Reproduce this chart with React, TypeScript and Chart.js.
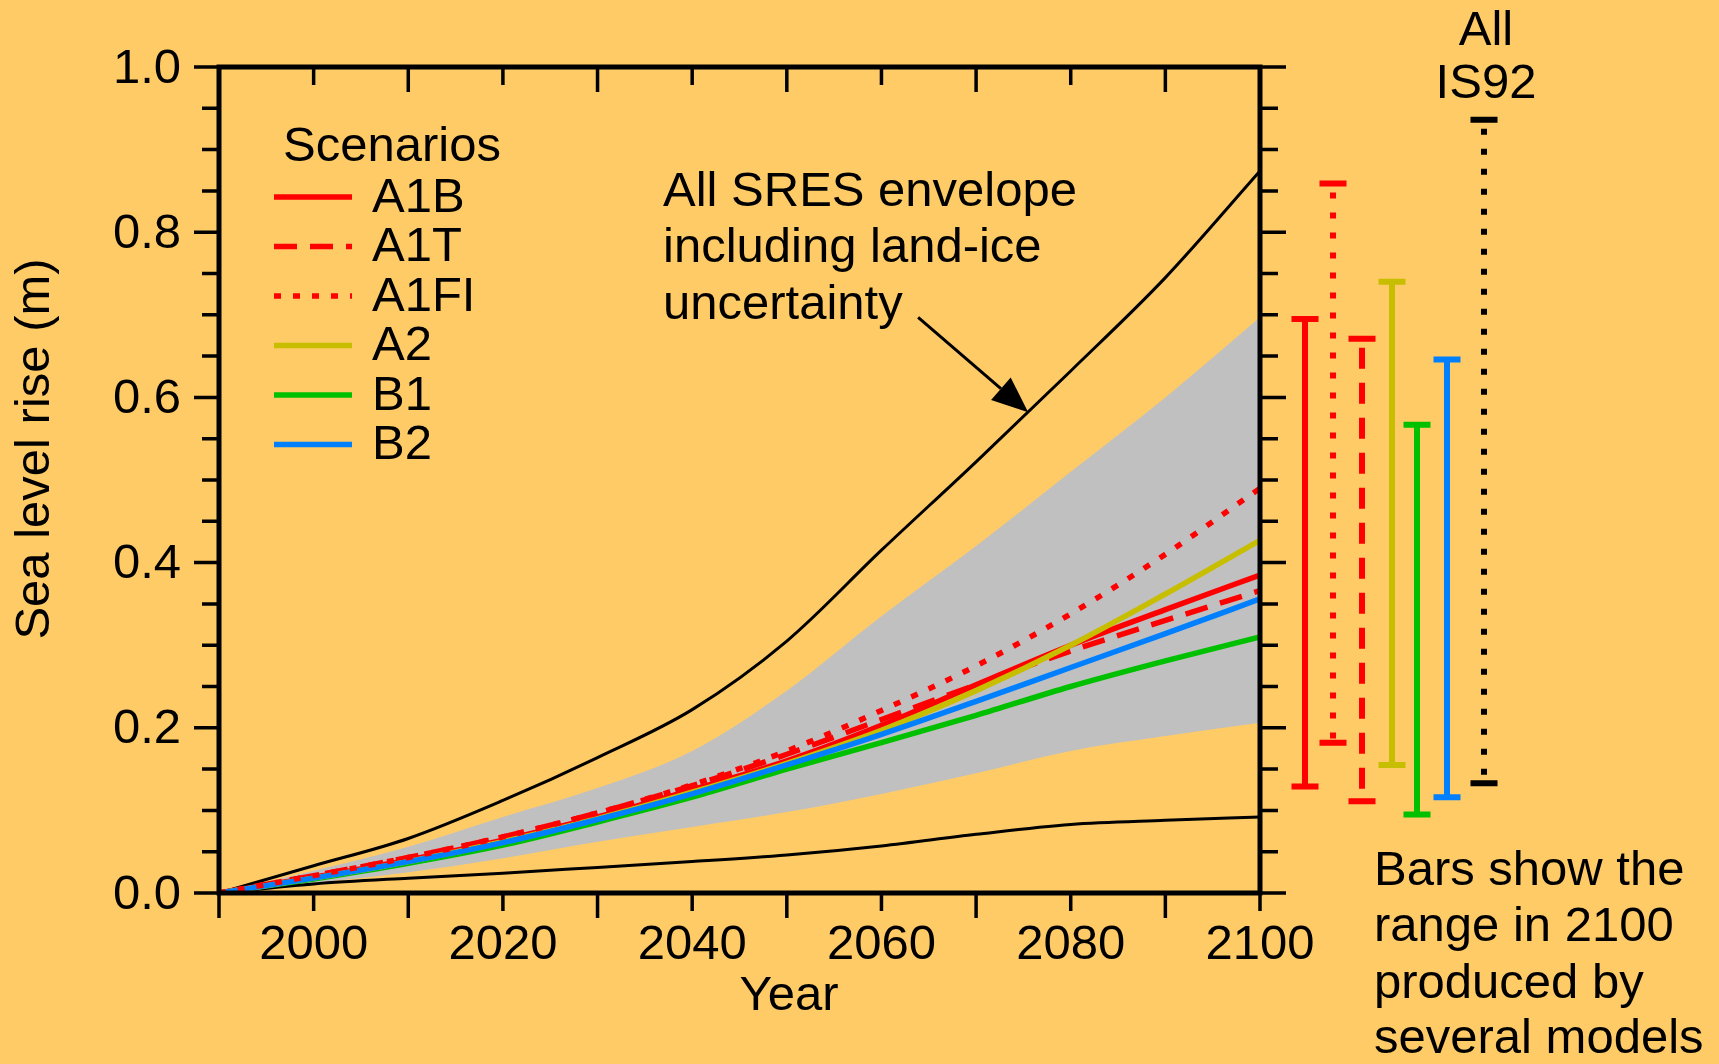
import React, { useEffect, useRef } from "react";
import { Chart, registerables } from "chart.js";

Chart.register(...registerables);

// ---- data ----
const years = [1990, 2000, 2010, 2020, 2030, 2040, 2050, 2060, 2070, 2080, 2090, 2100];

// All SRES envelope including land-ice uncertainty (black lines)
const envelopeUpper = [0, 0.033, 0.066, 0.112, 0.164, 0.222, 0.305, 0.415, 0.522, 0.632, 0.745, 0.874];
const envelopeLower = [0, 0.011, 0.018, 0.024, 0.031, 0.038, 0.046, 0.057, 0.071, 0.083, 0.088, 0.092];

// Model-average range for all SRES scenarios (grey band)
const bandUpper = [0, 0.027, 0.056, 0.092, 0.127, 0.172, 0.245, 0.335, 0.42, 0.51, 0.6, 0.697];
const bandLower = [0, 0.012, 0.025, 0.042, 0.062, 0.08, 0.098, 0.12, 0.145, 0.172, 0.19, 0.206];

// Scenario averages
const a1b = [0, 0.019, 0.04, 0.064, 0.092, 0.125, 0.16, 0.203, 0.252, 0.3, 0.343, 0.385];
const a1t = [0, 0.021, 0.043, 0.068, 0.097, 0.13, 0.168, 0.21, 0.252, 0.293, 0.33, 0.366];
const a1fi = [0, 0.021, 0.043, 0.068, 0.097, 0.131, 0.172, 0.221, 0.275, 0.338, 0.41, 0.49];
const a2 = [0, 0.018, 0.038, 0.062, 0.09, 0.122, 0.157, 0.197, 0.245, 0.3, 0.362, 0.427];
const b1 = [0, 0.017, 0.036, 0.058, 0.086, 0.116, 0.15, 0.182, 0.215, 0.25, 0.281, 0.31];
const b2 = [0, 0.018, 0.038, 0.061, 0.089, 0.12, 0.155, 0.192, 0.232, 0.273, 0.314, 0.356];

// Ranges in 2100 produced by several models
const rangeNames = ["A1B", "A1FI", "A1T", "A2", "B1", "B2", "IS92"];
const rangeLow = [0.129, 0.182, 0.111, 0.155, 0.095, 0.116, 0.133];
const rangeHigh = [0.695, 0.859, 0.671, 0.74, 0.567, 0.646, 0.936];

// Axis ticks
const yTickValues = [0, 0.2, 0.4, 0.6, 0.8, 1.0];
const xTickLabels = [2000, 2020, 2040, 2060, 2080, 2100];
const xTickStep = 10;
const yMinorStep = 0.05;

const legendNames = ["A1B", "A1T", "A1FI", "A2", "B1", "B2"];

// ---- styles / layout ----
const W = 1719;
const H = 1064;
const BG = "#FFCB66";
const FONT = '"Liberation Sans", Arial, Helvetica, sans-serif';
const FONT_SIZE = 49;
const RED = "#FF0000";
const OLIVE = "#C8BE00";
const GREEN = "#00C000";
const BLUE = "#0080FF";

const styles: Record<string, { color: string; dash: number[]; barDash: number[] }> = {
  A1B: { color: RED, dash: [], barDash: [] },
  A1T: { color: RED, dash: [23, 13], barDash: [21, 14] },
  A1FI: { color: RED, dash: [7, 12], barDash: [6, 14] },
  A2: { color: OLIVE, dash: [], barDash: [] },
  B1: { color: GREEN, dash: [], barDash: [] },
  B2: { color: BLUE, dash: [], barDash: [] },
  IS92: { color: "#000000", dash: [], barDash: [6, 14] },
};

const barX: Record<string, number> = {
  A1B: 1305,
  A1FI: 1333,
  A1T: 1362,
  A2: 1392,
  B1: 1417,
  B2: 1447,
  IS92: 1484,
};

const pts = (vals: number[]) => years.map((x, i) => ({ x, y: vals[i] }));

const scenarioSet = (label: string, vals: number[], order: number) => ({
  label,
  data: pts(vals),
  borderColor: styles[label].color,
  borderWidth: 5.5,
  borderDash: styles[label].dash,
  borderCapStyle: "butt" as const,
  fill: false,
  order,
});

const decorPlugin = {
  id: "decor",
  beforeDraw(chart: any) {
    const { ctx } = chart;
    ctx.save();
    ctx.fillStyle = BG;
    ctx.fillRect(0, 0, chart.width, chart.height);
    ctx.restore();
  },
  afterDatasetsDraw(chart: any) {
    const { ctx, chartArea: a } = chart;
    const xs = chart.scales.x;
    const ys = chart.scales.y;
    ctx.save();
    ctx.strokeStyle = "#000";
    ctx.fillStyle = "#000";
    ctx.lineCap = "butt";

    // frame
    ctx.lineWidth = 5;
    ctx.lineJoin = "miter";
    ctx.strokeRect(a.left, a.top, a.right - a.left, a.bottom - a.top);

    // y ticks (left outward, right outward)
    ctx.lineWidth = 3.5;
    const nMinor = Math.round((ys.max - ys.min) / yMinorStep);
    for (let k = 0; k <= nMinor; k++) {
      const v = ys.min + k * yMinorStep;
      const major = yTickValues.some((t) => Math.abs(t - v) < 1e-6);
      const py = ys.getPixelForValue(v);
      ctx.beginPath();
      ctx.moveTo(a.left - (major ? 25 : 17), py);
      ctx.lineTo(a.left, py);
      ctx.moveTo(a.right, py);
      ctx.lineTo(a.right + (major ? 26 : 18), py);
      ctx.stroke();
    }

    // x ticks (bottom outward, top inward)
    for (let yr = xs.min; yr <= xs.max + 1e-6; yr += xTickStep) {
      const labelled = xTickLabels.includes(yr);
      const len = labelled ? 18 : 25;
      const px = xs.getPixelForValue(yr);
      ctx.beginPath();
      ctx.moveTo(px, a.bottom);
      ctx.lineTo(px, a.bottom + len);
      ctx.moveTo(px, a.top);
      ctx.lineTo(px, a.top + len);
      ctx.stroke();
    }

    // tick labels
    ctx.font = `${FONT_SIZE}px ${FONT}`;
    ctx.textBaseline = "middle";
    ctx.textAlign = "right";
    yTickValues.forEach((v) => {
      ctx.fillText(v.toFixed(1), a.left - 38, ys.getPixelForValue(v) + 2);
    });
    ctx.textAlign = "center";
    xTickLabels.forEach((yr) => {
      ctx.fillText(String(yr), xs.getPixelForValue(yr), a.bottom + 52);
    });

    // axis titles
    ctx.fillText("Year", 789, 996);
    ctx.save();
    ctx.translate(35, 449);
    ctx.rotate(-Math.PI / 2);
    ctx.fillText("Sea level rise (m)", 0, 0);
    ctx.restore();

    // legend
    ctx.textAlign = "left";
    ctx.fillText("Scenarios", 283, 147);
    legendNames.forEach((name, i) => {
      const ry = 197 + i * 49.5;
      const st = styles[name];
      ctx.save();
      ctx.strokeStyle = st.color;
      ctx.lineWidth = 5.5;
      ctx.setLineDash(st.dash);
      ctx.beginPath();
      ctx.moveTo(274, ry);
      ctx.lineTo(352, ry);
      ctx.stroke();
      ctx.restore();
      ctx.fillText(name, 372, ry + 1);
    });

    // envelope annotation
    ctx.textBaseline = "alphabetic";
    ctx.fillText("All SRES envelope", 663, 206);
    ctx.fillText("including land-ice", 663, 262);
    ctx.fillText("uncertainty", 663, 319);

    // arrow pointing at the upper envelope line
    const tipX = xs.getPixelForValue(2075.5);
    const tipY = ys.getPixelForValue(0.582);
    const sx = tipX - 110;
    const sy = tipY - 95;
    const ang = Math.atan2(tipY - sy, tipX - sx);
    const headLen = 36;
    const headHalf = 15;
    const bx = tipX - headLen * Math.cos(ang);
    const by = tipY - headLen * Math.sin(ang);
    ctx.lineWidth = 3;
    ctx.beginPath();
    ctx.moveTo(sx, sy);
    ctx.lineTo(bx, by);
    ctx.stroke();
    ctx.beginPath();
    ctx.moveTo(tipX, tipY);
    ctx.lineTo(bx + headHalf * Math.sin(ang), by - headHalf * Math.cos(ang));
    ctx.lineTo(bx - headHalf * Math.sin(ang), by + headHalf * Math.cos(ang));
    ctx.closePath();
    ctx.fill();

    // range bars for 2100
    rangeNames.forEach((name, i) => {
      const st = styles[name];
      const cx = barX[name];
      const yTop = ys.getPixelForValue(rangeHigh[i]);
      const yBot = ys.getPixelForValue(rangeLow[i]);
      ctx.save();
      ctx.strokeStyle = st.color;
      ctx.lineWidth = 6;
      // caps
      ctx.beginPath();
      ctx.moveTo(cx - 13.5, yTop);
      ctx.lineTo(cx + 13.5, yTop);
      ctx.moveTo(cx - 13.5, yBot);
      ctx.lineTo(cx + 13.5, yBot);
      ctx.stroke();
      // vertical
      ctx.setLineDash(st.barDash);
      ctx.beginPath();
      const start = st.barDash.length ? yTop + 9 : yTop;
      ctx.moveTo(cx, start);
      ctx.lineTo(cx, yBot);
      ctx.stroke();
      ctx.restore();
    });

    ctx.textAlign = "center";
    ctx.textBaseline = "middle";
    ctx.fillText("All", 1486, 31);
    ctx.fillText("IS92", 1486, 84);

    ctx.textAlign = "left";
    ctx.fillText("Bars show the", 1374, 871);
    ctx.fillText("range in 2100", 1374, 927);
    ctx.fillText("produced by", 1374, 984);
    ctx.fillText("several models", 1374, 1039);

    ctx.restore();
  },
};

export default function App() {
  const ref = useRef<HTMLCanvasElement>(null);

  useEffect(() => {
    const canvas = ref.current;
    if (!canvas) return;
    const chart = new Chart(canvas, {
      type: "line",
      data: {
        datasets: [
          {
            label: "band upper",
            data: pts(bandUpper),
            borderWidth: 0,
            borderColor: "rgba(0,0,0,0)",
            backgroundColor: "#C0C0C0",
            fill: "+1",
            order: 100,
          },
          {
            label: "band lower",
            data: pts(bandLower),
            borderWidth: 0,
            borderColor: "rgba(0,0,0,0)",
            fill: false,
            order: 99,
          },
          {
            label: "envelope upper",
            data: pts(envelopeUpper),
            borderColor: "#000",
            borderWidth: 3,
            fill: false,
            order: 50,
          },
          {
            label: "envelope lower",
            data: pts(envelopeLower),
            borderColor: "#000",
            borderWidth: 3,
            fill: false,
            order: 49,
          },
          scenarioSet("B1", b1, 10),
          scenarioSet("A1B", a1b, 9),
          scenarioSet("A1T", a1t, 8),
          scenarioSet("A2", a2, 7),
          scenarioSet("B2", b2, 6),
          scenarioSet("A1FI", a1fi, 5),
        ],
      },
      options: {
        animation: false,
        responsive: false,
        maintainAspectRatio: false,
        layout: { padding: { left: 219, top: 67, right: W - 1260, bottom: H - 893 } },
        elements: {
          point: { radius: 0, hoverRadius: 0 },
          line: { cubicInterpolationMode: "monotone" },
        },
        scales: {
          x: { type: "linear", min: 1990, max: 2100, display: false },
          y: { type: "linear", min: 0, max: 1, display: false },
        },
        plugins: {
          legend: { display: false },
          tooltip: { enabled: false },
        },
      },
      plugins: [decorPlugin],
    });
    return () => chart.destroy();
  }, []);

  return (
    <div style={{ position: "fixed", left: 0, top: 0, width: W, height: H, background: BG }}>
      <canvas ref={ref} width={W} height={H} style={{ display: "block", width: W, height: H }} />
    </div>
  );
}
